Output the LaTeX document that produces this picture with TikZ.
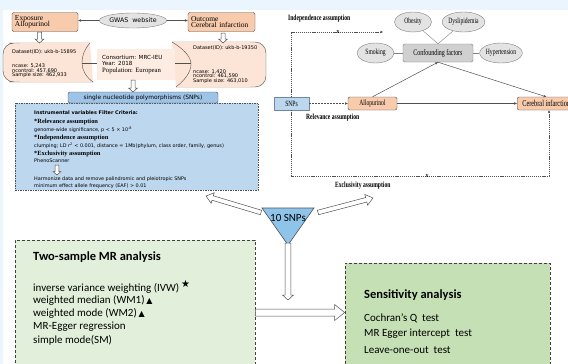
\documentclass[tikz,border=0pt]{standalone}
\usepackage{fontspec}
\setmainfont{Liberation Serif}
\setsansfont{Carlito}
\newfontfamily\dvs{DejaVu Sans}
\usepackage{graphicx}
\usetikzlibrary{arrows.meta,calc,shapes.geometric}
\definecolor{peach}{HTML}{F8CBAD}
\definecolor{peachlt}{HTML}{FCE4D6}
\definecolor{skyblue}{HTML}{9DC3E6}
\definecolor{paleblue}{HTML}{BDD7EE}
\definecolor{triblue}{HTML}{8FC4EA}
\definecolor{mintgreen}{HTML}{E2EFDA}
\definecolor{leafgreen}{HTML}{C5E0B4}
\definecolor{bandblue}{HTML}{EAF5FD}
\definecolor{linegray}{HTML}{505050}
\definecolor{ellgray}{HTML}{E3E3E3}
\definecolor{boxgray}{HTML}{D0D0D0}
\newcommand{\fsz}[1]{\fontsize{#1}{#1}\selectfont}
\newcommand{\sq}[1]{\scalebox{0.7}[1]{#1}}
% block arrow: start, end, half shaft, half head, head length
\newcommand{\blockarrow}[5]{%
  \coordinate (ba-h) at ($(#2)!#5!(#1)$);
  \draw[hollow] ($(#1)!#3!90:(#2)$) -- ($(ba-h)!#3!-90:(#1)$) -- ($(ba-h)!#4!-90:(#1)$)
    -- (#2) -- ($(ba-h)!#4!90:(#1)$) -- ($(ba-h)!#3!90:(#1)$) -- ($(#1)!#3!-90:(#2)$) -- cycle;}

\begin{document}
\begin{tikzpicture}[x=1pt,y=-1pt,
  orbox/.style={draw=linegray, fill=peach, rounded corners=2pt, inner sep=0pt},
  ellnode/.style={ellipse, draw=gray, fill=ellgray, inner sep=0pt},
  dstext/.style={font=\dvs\fsz{5}, anchor=west, inner sep=0pt},
  ivtext/.style={font=\dvs\fsz{4.9}, anchor=west, inner sep=0pt},
  ivhead/.style={font=\bfseries\fsz{6.4}, anchor=west, inner sep=0pt},
  rtext/.style={font=\fsz{8}, inner sep=0pt},
  rlab/.style={font=\bfseries\fsz{8}, anchor=west, inner sep=0pt},
  grtext/.style={font=\sffamily\fsz{11}, anchor=west, inner sep=0pt},
  grhead/.style={font=\sffamily\bfseries\fsz{12.5}, anchor=west, inner sep=0pt},
  arr/.style={-{Stealth[length=3pt,width=2.6pt]}, draw=linegray, line width=0.5pt},
  dotarr/.style={arr, dash pattern=on 1.2pt off 0.9pt},
  hollow/.style={draw=linegray, fill=white, line width=0.5pt, line join=miter}
]
\useasboundingbox (0,0) rectangle (568,364);
\clip (0,0) rectangle (568,364);
\fill[white] (0,0) rectangle (568,364);
\fill[bandblue] (0,0) rectangle (568,10);
\fill[bandblue] (0,0) rectangle (3,364);

% data sources
\node[orbox, minimum width=66pt, minimum height=19pt, text width=60pt, align=left,
  font=\fsz{7.5}] (expo) at (45,22) {Exposure\\[-1pt]Allopurinol};
\node[orbox, minimum width=67pt, minimum height=19pt, text width=61pt, align=left,
  font=\fsz{7.5}] (outc) at (221.5,22) {Outcome\\[-1pt]Cerebral infarction};
\node[ellnode, minimum width=66pt, minimum height=15pt, font=\dvs\fsz{6.3}] (gwas) at (133,20.5) {GWAS\ \ website};
\draw[arr] (gwas.west) -- (gwas.west -| expo.east);
\draw[arr] (gwas.east) -- (gwas.east -| outc.west);

% datasets
\draw[draw=linegray, fill=peachlt, rounded corners=11pt] (90,43) -- (20,43) -- (3,43) -- (3,82) -- (20,82) -- (93,82);
\fill[peachlt] (20,43) -- (90,43) .. controls (84,50) and (82,56) .. (82,63)
  .. controls (82,70) and (86,77) .. (93,82) -- (20,82) -- cycle;
\draw[draw=linegray] (90,43) .. controls (84,50) and (82,56) .. (82,63)
  .. controls (82,70) and (86,77) .. (93,82);
\draw[draw=linegray, fill=peachlt, rounded corners=11pt] (176,87) -- (266,87) -- (266,42) -- (172,42);
\fill[peachlt] (172,42) -- (250,42) -- (250,87) -- (176,87) .. controls (185,80) and (191,72) .. (191,64)
  .. controls (191,56) and (182,48) .. (172,42);
\draw[draw=linegray] (176,87) .. controls (185,80) and (191,72) .. (191,64)
  .. controls (191,56) and (182,48) .. (172,42);
\node[fill=peachlt!70!white, minimum width=78pt, minimum height=31pt, inner sep=0pt] (mid) at (136,64.5) {};
\coordinate (dslin) at (82,63);
\coordinate (dsrin) at (191,63);
\draw[linegray] (dslin) -- (dslin -| mid.west);
\draw[linegray] (dsrin) -- (dsrin -| mid.east);
\node[dstext] (dsl) at (12,52) {Dataset(ID): ukb-b-15895};
\node[dstext, align=left] (dslst) at (12,71) {ncase: 5,243\\[-0.6pt]ncontrol: 457,690\\[-0.6pt]Sample size: 462,933};
\node[dstext] (dsr) at (193,48) {Dataset(ID): ukb-b-19350};
\node[dstext, align=left] (dsrst) at (193,76.5) {ncase: 1,420\\[-0.6pt]ncontrol: 461,590\\[-0.6pt]Sample size: 463,010};
\node[dstext, font=\dvs\fsz{5.6}] (cons) at (102,57) {Consortium: MRC-IEU};
\node[dstext, font=\dvs\fsz{5.6}] (year) at (102,63.5) {Year: 2018};
\node[dstext, font=\fsz{6.7}] (popu) at (102,71) {Population: European};
\coordinate (ea1) at (39.5,32); \coordinate (ea2) at (39.5,43);
\coordinate (oa1) at (223,33); \coordinate (oa2) at (223,43);
\coordinate (ma1) at (133,80); \coordinate (ma2) at (133,92);
\blockarrow{ea1}{ea2}{2pt}{4.5pt}{4pt}
\blockarrow{oa1}{oa2}{2pt}{4.5pt}{4pt}
\blockarrow{ma1}{ma2}{2pt}{4.5pt}{4pt}

% instrumental variables
\node[draw=linegray, fill=paleblue, dash pattern=on 1.5pt off 1pt, minimum width=243pt,
  minimum height=87pt, inner sep=0pt] (ivbox) at (136.5,146.5) {};
\node[draw=linegray, fill=skyblue, rounded corners=1.5pt, minimum width=150pt, minimum height=11pt,
  inner sep=0pt, font=\dvs\fsz{5.9}] (snpl) at (143,97.5) {single nucleotide polymorphisms (SNPs)};
\node[ivtext, font=\dvs\bfseries\fsz{4.9}] (iv1) at (34,113) {Instrumental variables Filter Criteria:};
\node[ivhead] (iv2) at (34,122) {*Relevance assumption};
\node[ivtext] (iv3) at (34,130) {genome-wide significance, p < 5 × 10\textsuperscript{-8}};
\node[ivhead] (iv4) at (34,137.5) {*Independence assumption};
\node[ivtext] (iv5) at (34,145.5) {clumping; LD r\textsuperscript{2} < 0.001, distance = 1Mb(phylum, class order, family, genus)};
\node[ivhead] (iv6) at (34,153.5) {*Exclusivity assumption};
\node[ivtext] (iv7) at (34,161) {PhenoScanner};
\node[ivtext] (iv8) at (34,179) {Harmonize data and remove palindromic and pleiotropic SNPs};
\node[ivtext] (iv9) at (34,186) {minimum effect allele frequency (EAF) > 0.01};
\coordinate (pa1) at (57,165); \coordinate (pa2) at (57,175);
\blockarrow{pa1}{pa2}{1.8pt}{4pt}{3.5pt}

% MR assumptions
\node[draw=skyblue!70!black, fill=paleblue, minimum width=35pt, minimum height=13pt, inner sep=0pt,
  rtext] (snp) at (291.5,103.5) {\sq{SNPs}};
\node[orbox, minimum width=49pt, minimum height=13pt, rtext] (allo) at (372.5,103.5) {\sq{Allopurinol}};
\node[orbox, minimum width=58pt, minimum height=13pt, rtext, font=\fsz{9}, anchor=west] (cere) at (517,103.5) {\sq{Cerebral infarction}};
\node[draw=gray, fill=boxgray, rounded corners=1.5pt, minimum width=70pt, minimum height=18pt,
  rtext, font=\fsz{8.5}] (conf) at (438,53) {\sq{Confounding factors}};
\node[ellnode, minimum width=37pt, minimum height=20pt, rtext] (obes) at (413,22) {\sq{Obesity}};
\node[ellnode, minimum width=39pt, minimum height=20pt, rtext] (dysl) at (463.5,22) {\sq{Dyslipidemia}};
\node[ellnode, minimum width=37pt, minimum height=20pt, rtext] (smok) at (375.5,53) {\sq{Smoking}};
\node[ellnode, minimum width=38pt, minimum height=20pt, rtext] (hype) at (501,53) {\sq{Hypertension}};
\draw[gray] (obes) -- (conf.north);
\draw[gray] (dysl) -- (conf.north);
\draw[gray] (smok) -- (conf);
\draw[gray] (hype) -- (conf);
\draw[arr] (allo.north) -- (conf.south);
\draw[arr] (conf.south) -- (cere.north);
\draw[arr, dash pattern=on 2pt off 1pt] (snp.east) -- (allo.west);
\draw[arr] (allo.east) -- (cere.west);
\coordinate (indtop) at (291,32); \coordinate (indend) at (383,32);
\draw[dotarr] (snp.north -| indtop) -- (indtop) -- (indend);
\coordinate (exbl) at (291,176); \coordinate (exbr) at (549,176);
\draw[dotarr] (snp.south -| exbl) -- (exbl) -- (exbr) -- (exbr |- cere.south);
\node[font=\bfseries\fsz{6}, inner sep=0pt] (xind) at (338,32) {x};
\node[font=\bfseries\fsz{6}, inner sep=0pt] (xexc) at (427,176) {x};
\node[rlab] (indl) at (288,19) {\sq{Independence assumption}};
\node[rlab] (rell) at (306,118) {\sq{Relevance assumption}};
\node[rlab] (excl) at (335,186) {\sq{Exclusivity assumption}};

% 10 SNPs
\draw[draw=linegray, fill=triblue, line width=0.6pt] (262,208) -- (314,208) -- (288,245) -- cycle;
\node[font=\sffamily\fsz{11}, inner sep=0pt] (tensnp) at (288,218) {10 SNPs};
\coordinate (la1) at (261,212.5); \coordinate (la2) at (206,196);
\coordinate (ra1) at (318,212.5); \coordinate (ra2) at (373,198);
\coordinate (da1) at (288,243); \coordinate (da2) at (288,300);
\blockarrow{la1}{la2}{2.3pt}{5.5pt}{7pt}
\blockarrow{ra1}{ra2}{2.3pt}{5.5pt}{7pt}
\blockarrow{da1}{da2}{2.8pt}{5.5pt}{5pt}

% analyses
\node[draw=black!75, fill=mintgreen, dash pattern=on 3pt off 2pt, line width=0.7pt,
  minimum width=240pt, minimum height=145pt, inner sep=0pt] (mr) at (135,312.5) {};
\node[draw=black!75, fill=leafgreen, dash pattern=on 3pt off 2pt, line width=0.7pt,
  minimum width=205pt, minimum height=117pt, inner sep=0pt] (sens) at (447.5,321.5) {};
\coordinate (sa2) at (sens.west |- mr.east);
\blockarrow{mr.east}{sa2}{3.5pt}{8pt}{10pt}
\node[grhead] (mrh) at (33,257) {Two-sample MR analysis};
\node[grtext] (mr1) at (33,287) {inverse variance weighting (IVW)\,\raisebox{4pt}{\dvs\fsz{10}★}};
\node[grtext] (mr2) at (33,300.5) {weighted median (WM1)\,{\dvs\fsz{8}▲}};
\node[grtext] (mr3) at (33,313.5) {weighted mode (WM2)\,{\dvs\fsz{8}▲}};
\node[grtext] (mr4) at (33,327) {MR-Egger regression};
\node[grtext] (mr5) at (33,340) {simple mode(SM)};
\node[grhead] (sensh) at (364,295) {Sensitivity analysis};
\node[grtext] (sens1) at (364,318) {Cochran's Q\ \ test};
\node[grtext] (sens2) at (364,334) {MR Egger intercept\ \ test};
\node[grtext] (sens3) at (364,350) {Leave-one-out\ \ test};
\end{tikzpicture}
\end{document}
